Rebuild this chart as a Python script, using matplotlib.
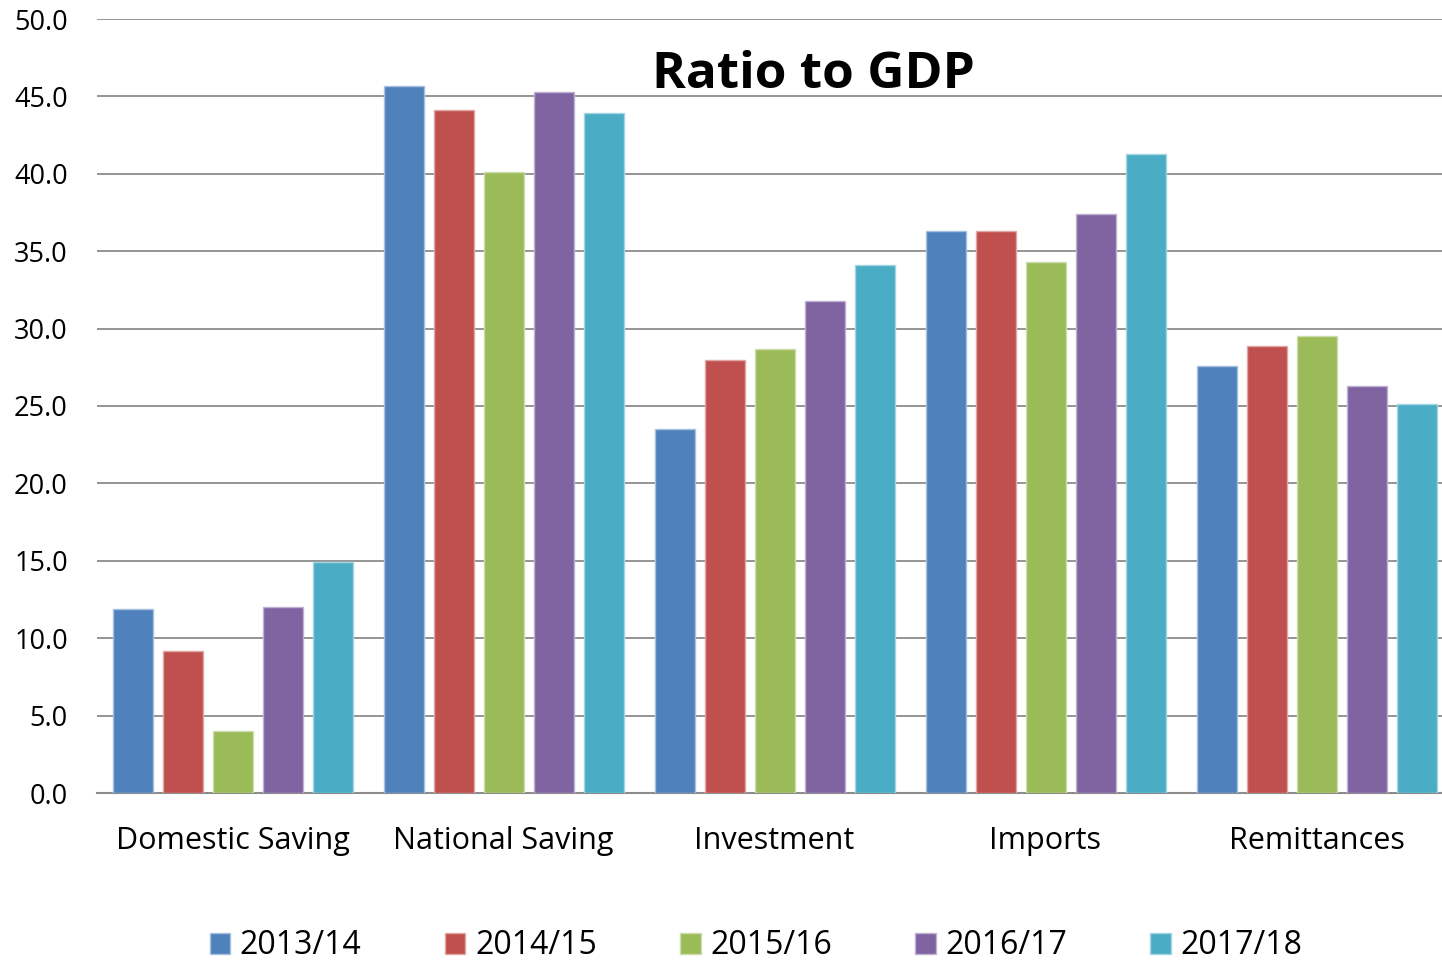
import matplotlib
matplotlib.use("Agg")
import matplotlib.pyplot as plt
import numpy as np

categories = ["Domestic Saving", "National Saving", "Investment", "Imports", "Remittances"]
years = ["2013/14", "2014/15", "2015/16", "2016/17", "2017/18"]
v_2013_14 = [11.9, 45.7, 23.5, 36.3, 27.6]
v_2014_15 = [9.2, 44.1, 28.0, 36.3, 28.9]
v_2015_16 = [4.0, 40.1, 28.7, 34.3, 29.5]
v_2016_17 = [12.0, 45.3, 31.8, 37.4, 26.3]
v_2017_18 = [14.9, 43.9, 34.1, 41.3, 25.1]
series = [v_2013_14, v_2014_15, v_2015_16, v_2016_17, v_2017_18]
colors = ["#4F81BD", "#C0504D", "#9BBB59", "#8064A2", "#4BACC6"]
edge_colors = ["#A7C0DE", "#DFA8A6", "#CDDDAC", "#BFB1D0", "#A5D5E2"]

plt.rcParams["font.family"] = ["Open Sans", "DejaVu Sans"]

fig = plt.figure(figsize=(14.42, 9.6), dpi=100)
# axes extends slightly past the right edge of the figure
ax = fig.add_axes([97 / 1442, (960 - 793) / 960, 1355 / 1442, (793 - 19) / 960])

x = np.arange(len(categories))
spacing = 50 / 271
width = 40 / 271
for i, (vals, c, ec) in enumerate(zip(series, colors, edge_colors)):
    ax.bar(x + (i - 2) * spacing, vals, width=width, color=c, edgecolor=ec,
           linewidth=1.0, label=years[i], zorder=3)

ax.set_xlim(-0.5, 4.5)
ax.set_ylim(0, 50)
ax.set_yticks(np.arange(0, 50.1, 5))
ax.set_yticklabels([f"{t:.1f}" for t in np.arange(0, 50.1, 5)], fontsize=19.5)
ax.set_xticks(x)
ax.set_xticklabels(categories, fontsize=22)
ax.tick_params(axis="x", length=0, pad=24)
ax.tick_params(axis="y", length=0, pad=21)
ax.yaxis.grid(True, color="#8C8C8C", linewidth=1.3, zorder=0)
for s in ["top", "right", "left"]:
    ax.spines[s].set_visible(False)
ax.spines["bottom"].set_color("#8C8C8C")
ax.spines["bottom"].set_linewidth(1.5)
ax.set_axisbelow(True)

fig.text(813 / 1442, 1 - 75 / 960, "Ratio to GDP",
         ha="center", va="center", fontsize=37, fontweight="bold")

handles, labels = ax.get_legend_handles_labels()
fig.legend(handles, labels, loc="center", bbox_to_anchor=(756 / 1442, 1 - 946 / 960),
           ncol=5, frameon=False, fontsize=23, handlelength=0.65, handleheight=0.65,
           handletextpad=0.3, columnspacing=2.6)

fig.savefig("out.png", dpi=100)
